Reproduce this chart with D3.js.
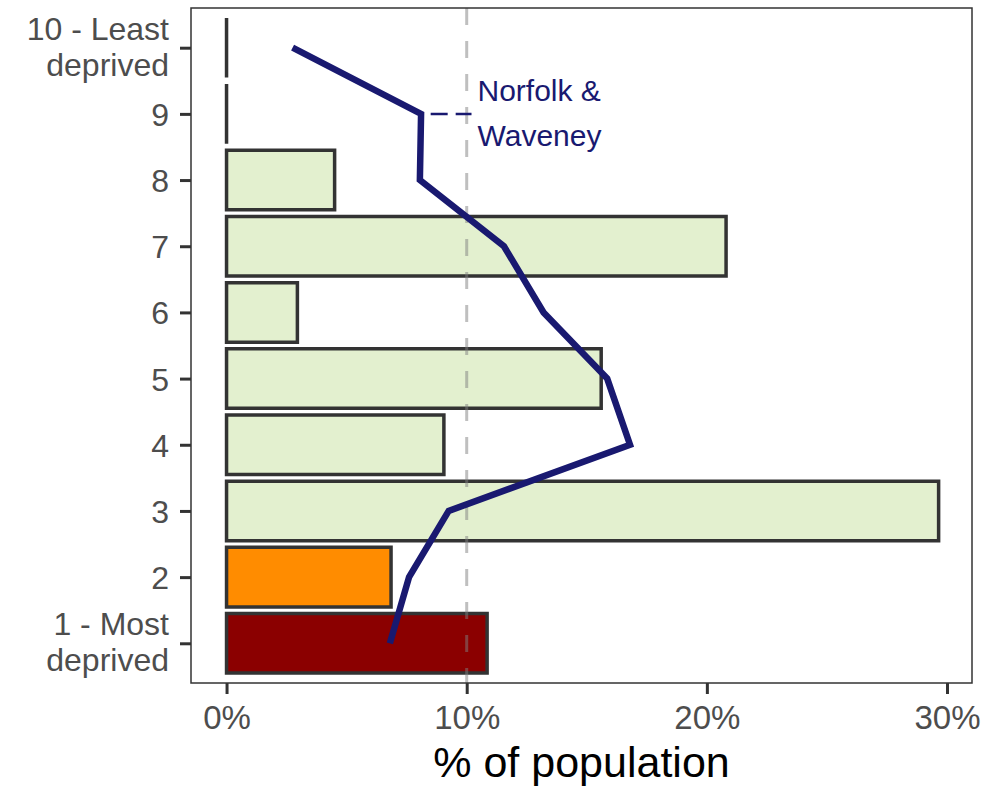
<!DOCTYPE html>
<html>
<head>
<meta charset="utf-8">
<script src="https://d3js.org/d3.v7.min.js"></script>
<style>
  body { margin: 0; background: #fff; }
  text { font-family: "Liberation Sans", Arial, sans-serif; }
</style>
</head>
<body>
<script>
// deciles, bottom (1) to top (10)
var deciles = ["1", "2", "3", "4", "5", "6", "7", "8", "9", "10"];
var decileLabels = [["1 - Most", "deprived"], ["2"], ["3"], ["4"], ["5"], ["6"], ["7"], ["8"], ["9"], ["10 - Least", "deprived"]];
// % of the area's population in each decile (bars)
var areaPct = [10.85, 6.85, 29.65, 9.05, 15.6, 2.95, 20.8, 4.5, 0, 0];
var barColours = ["#8B0000", "#FF8C00", "#E3F0CF", "#E3F0CF", "#E3F0CF", "#E3F0CF", "#E3F0CF", "#E3F0CF", "#E3F0CF", "#E3F0CF"];
// Norfolk & Waveney comparison line
var nwPct = [6.8, 7.6, 9.25, 16.8, 15.85, 13.2, 11.55, 8.05, 8.1, 2.75];
var xTicks = [0, 10, 20, 30];

var W = 995, H = 788;
var panel = {left: 191, right: 972, top: 8, bottom: 683};

var svg = d3.select("body").append("svg")
    .attr("width", W)
    .attr("height", H);

var x = d3.scaleLinear()
    .domain([-1.48, 31.04])
    .range([panel.left, panel.right]);

var y = d3.scalePoint()
    .domain(deciles)
    .range([panel.bottom, panel.top])
    .padding(0.6);

var bandH = y.step() * 0.9;

// bars (drawn as paths so zero-width bars still show their outline)
svg.append("g")
  .selectAll("path")
  .data(deciles)
  .enter().append("path")
    .attr("d", function(d, i) {
      var x0 = x(0), x1 = x(areaPct[i]), y0 = y(d) - bandH / 2, y1 = y(d) + bandH / 2;
      return "M" + x0 + "," + y0 + "H" + x1 + "V" + y1 + "H" + x0 + "Z";
    })
    .attr("fill", function(d, i) { return barColours[i]; })
    .attr("stroke", "#333333")
    .attr("stroke-width", 3.5);

// 10% reference line
svg.append("line")
    .attr("x1", x(10)).attr("x2", x(10))
    .attr("y1", panel.top).attr("y2", panel.bottom)
    .attr("stroke", "#7f7f7f")
    .attr("stroke-opacity", 0.5)
    .attr("stroke-width", 3)
    .attr("stroke-dasharray", "17,16");

// Norfolk & Waveney line
var line = d3.line()
    .x(function(d) { return x(d.v); })
    .y(function(d) { return y(d.k); });

svg.append("path")
    .datum(deciles.map(function(k, i) { return {k: k, v: nwPct[i]}; }))
    .attr("d", line)
    .attr("fill", "none")
    .attr("stroke", "#191970")
    .attr("stroke-width", 6.5)
    .attr("stroke-linejoin", "miter");

// label for the line
svg.append("line")
    .attr("x1", x(nwPct[8] + 0.4)).attr("x2", x(10.2))
    .attr("y1", y("9")).attr("y2", y("9"))
    .attr("stroke", "#191970")
    .attr("stroke-width", 2.5)
    .attr("stroke-dasharray", "17,8");

var lab = svg.append("text")
    .attr("x", x(10.45))
    .attr("y", y("9"))
    .attr("fill", "#191970")
    .attr("font-size", 30);
lab.append("tspan").attr("x", x(10.45)).attr("dy", -13).text("Norfolk &");
lab.append("tspan").attr("x", x(10.45)).attr("dy", 45).text("Waveney");

// panel border
svg.append("rect")
    .attr("x", panel.left).attr("y", panel.top)
    .attr("width", panel.right - panel.left)
    .attr("height", panel.bottom - panel.top)
    .attr("fill", "none")
    .attr("stroke", "#333333")
    .attr("stroke-width", 1.5);

// y axis
var yAxis = svg.append("g")
    .attr("transform", "translate(" + panel.left + ",0)")
    .call(d3.axisLeft(y).tickSize(11).tickFormat(""));
yAxis.select(".domain").remove();
yAxis.selectAll(".tick line").attr("stroke", "#333333").attr("stroke-width", 3);

var yLab = svg.append("g")
  .selectAll("text")
  .data(deciles)
  .enter().append("text")
    .attr("text-anchor", "end")
    .attr("fill", "#4D4D4D")
    .attr("font-size", 32)
    .attr("y", function(d) { return y(d); });
yLab.each(function(d, i) {
  var lines = decileLabels[i];
  var t = d3.select(this);
  lines.forEach(function(s, j) {
    t.append("tspan")
      .attr("x", 169)
      .attr("dy", j === 0 ? (lines.length === 1 ? 12 : -8) : 36)
      .text(s);
  });
});

// x axis
var xAxis = svg.append("g")
    .attr("transform", "translate(0," + panel.bottom + ")")
    .call(d3.axisBottom(x).tickValues(xTicks).tickSize(11).tickFormat(function(d) { return d + "%"; }));
xAxis.select(".domain").remove();
xAxis.selectAll(".tick line").attr("stroke", "#333333").attr("stroke-width", 3);
xAxis.selectAll(".tick text")
    .attr("fill", "#4D4D4D")
    .attr("font-size", 33)
    .attr("dy", null)
    .attr("y", 46);

svg.append("text")
    .attr("x", (panel.left + panel.right) / 2)
    .attr("y", 777)
    .attr("text-anchor", "middle")
    .attr("fill", "#000")
    .attr("font-size", 43)
    .text("% of population");
</script>
</body>
</html>
